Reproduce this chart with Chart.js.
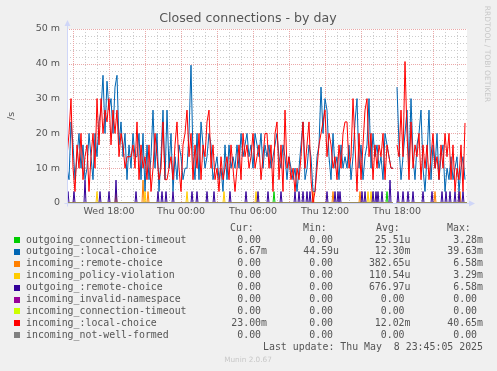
<!DOCTYPE html>
<html><head><meta charset="utf-8">
<script src="https://cdn.jsdelivr.net/npm/chart.js@4/dist/chart.umd.min.js"></script>
<style>html,body{margin:0;padding:0;background:#F0F0F0;overflow:hidden}</style>
</head><body><canvas id="c" width="497" height="371"></canvas>
<script>
// ---------- data ----------
const seriesNames = ["outgoing_connection-timeout","outgoing_:local-choice","incoming_:remote-choice","incoming_policy-violation","outgoing_:remote-choice","incoming_invalid-namespace","incoming_connection-timeout","incoming_:local-choice","incoming_not-well-formed"];
const seriesColors = ["#00CC00","#0066B3","#FF8000","#FFCC00","#330099","#990099","#CCFF00","#FF0000","#808080"];
const curCol = ["0.00","6.67m","0.00","0.00","0.00","0.00","0.00","23.00m","0.00"];
const minCol = ["0.00","44.59u","0.00","0.00","0.00","0.00","0.00","0.00","0.00"];
const avgCol = ["25.51u","12.30m","382.65u","110.54u","676.97u","0.00","0.00","12.02m","0.00"];
const maxCol = ["3.28m","39.63m","6.58m","3.29m","6.58m","0.00","0.00","40.65m","0.00"];
const xTickLabels = ["Wed 18:00","Thu 00:00","Thu 06:00","Thu 12:00","Thu 18:00"];
const xTickMinutes = [1080,1440,1800,2160,2520];   // minutes since Wed 00:00
const yTicks = [0,10,20,30,40,50];                   // milli per second
const startMinute = 870;                              // Wed 14:30
const endMinute = 2870;
// 10-minute samples (values in m/s)
const localOut = [10,6.7,23.3,16.7,6.7, 13.3,20,10,16.7,6.7, 10,20,13.3,6.7,20, 13.3,23.3,26.7,36.7,20,
 35,26.7,30,20,33.3, 36.7,16.7,23.3,13.3,20, 6.7,16.7,10,20,13.3, 13.3,20,6.7,20,3.3,
 16.7,6.7,13.3,26.7,10, 20,3.3,13.3,26.7,6.7, 26.7,10,20,3.3,13.3, 6.7,16.7,13.3,6.7,10,
 10,20,39.6,13.3,6.7, 20,6.7,23.3,16.7,10, 13.3,20,16.7,6.7,10, 13.3,6.7,10,3.3,16.7,
 6.7,16.7,10,13.3,10, 16.7,10,20,13.3,16.7, 20,13.3,16.7,10,20, 16.7,13.3,20,10,16.7,
 13.3,16.7,10,13.3,16.7, 20,13.3,10,16.7,13.3, 6.7,13.3,10,6.7,10, 3.3,10,16.7,23.3,6.7,
 10,16.7,13.3,3.3,3.3, 13.3,16.7,33.3,20,30, 26.7,13.3,6.7,20,10, 13.3,6.7,16.7,10,13.3,
 10,16.7,6.7,13.3,23.3, 30,10,16.7,6.7,13.3, 16.7,30,10,20,13.3, 16.7,10,13.3,6.7,20,
 16.7,13.3,10,10,null, 33.3,16.7,6.7,13.3,20, 26.7,10,30,13.3,6.7, 16.7,20,26.7,10,3.3,
 13.3,26.7,6.7,16.7,10, 20,6.7,13.3,16.7,3.3, 10,6.7,13.3,6.7,10, 13.3,3.3,10,13.3,6.7];
const localIn = [13.3,20,30,10,3.3, 16.7,10,20,6.7,13.3, 16.7,3.3,13.3,20,10, 30,16.7,30,20,26.7,
 23.3,30,16.7,26.7,20, 26.7,13.3,20,16.7,10, 13.3,13.3,13.3,16.7,10, 23.3,6.7,16.7,10,13.3,
 6.7,16.7,3.3,10,20, 13.3,6.7,10,23.3,6.7, 6.7,10,13.3,6.7,16.7, 23.3,10,3.3,16.7,20,
 26.7,13.3,20,6.7,16.7, 10,20,6.7,16.7,13.3, 23.3,26.7,10,16.7,6.7, 10,3.3,13.3,6.7,10,
 13.3,6.7,16.7,10,3.3, 10,16.7,6.7,20,13.3, 16.7,10,13.3,20,10, 13.3,16.7,6.7,13.3,20,
 20,10,16.7,3.3,20, 23.3,6.7,16.7,3.3,26.7, 10,13.3,6.7,10,3.3, 10,6.7,13.3,23.3,10,
 16.7,23.3,6.7,0,3.3, 10,16.7,20,23.3,26.7, 13.3,20,16.7,10,13.3, 6.7,16.7,10,20,23.3,
 23.3,10,13.3,30,16.7, 3.3,20,6.7,16.7,26.7, 30,13.3,20,6.7,16.7, 10,16.7,13.3,20,6.7,
 16.7,13.3,10,10,null, 16.7,13.3,26.7,13.3,40.65, 20,6.7,23.3,10,16.7, 13.3,20,6.7,16.7,10,
 16.7,6.7,13.3,20,10, 13.3,6.7,16.7,10,20, 13.3,20,6.7,16.7,3.3, 10,6.7,16.7,3.3,23];
// 5-minute slots (from Wed 14:30) where the small series are non-zero
const remoteOutSlots = [1,7,33,42,69,91,95,99,106,125,130,140,147,163,179,191,201,214,228,232,236,240,243,260,268,271,273,295,298,306,309,311,315,331,336,341,346,356,365,375,379,383,388,392,396];
const remoteOutHighSlots = [18,49,323];
const remoteInSlots = [49,81,246,266,293,368,393];
const remoteInHighSlots = [76];
const policySlots = [30,78,120,157,189,301,304];
const connTimeoutOutSlots = [207,320];
const gapSlots = [327,328,329];
const lowLevel = 3.3, highLevel = 6.58;

// ---------- build datasets ----------
function tenMinPoints(vals){ return vals.map((v,i)=>({x:startMinute+10*i, y:v})); }
function spikePoints(slots, highSlots, level){
  const n = (endMinute-startMinute)/5;
  const arr = [];
  for(let s=0;s<=n;s++){
    let y = 0;
    if (gapSlots.includes(s)) y = null;
    else if (highSlots.includes(s)) y = highLevel;
    else if (slots.includes(s)) y = level;
    arr.push({x:startMinute+5*s, y});
  }
  return arr;
}
const seriesData = [
  spikePoints(connTimeoutOutSlots, [], 3.28),
  tenMinPoints(localOut),
  spikePoints(remoteInSlots, remoteInHighSlots, lowLevel),
  spikePoints(policySlots, [], 3.29),
  spikePoints(remoteOutSlots, remoteOutHighSlots, lowLevel),
  spikePoints([], [], 0),
  spikePoints([], [], 0),
  tenMinPoints(localIn),
  spikePoints([], [], 0)
];
const datasets = seriesNames.map((name,i)=>({
  label:name, data:seriesData[i], borderColor:seriesColors[i], backgroundColor:seriesColors[i],
  borderWidth:1, pointRadius:0, tension:0, fill:false, spanGaps:false, order:8-i
}));

const FONT = '"DejaVu Sans", sans-serif';
const MONO = '"DejaVu Sans Mono", monospace';

const decor = {
  id:'decor',
  beforeDraw(chart){
    const {ctx, chartArea:a} = chart;
    ctx.save();
    ctx.fillStyle='#F0F0F0'; ctx.fillRect(0,0,chart.width,chart.height);
    ctx.fillStyle='#FFFFFF'; ctx.fillRect(a.left,a.top,a.right-a.left,a.bottom-a.top);
    const xs = chart.scales.x, ys = chart.scales.y;
    ctx.lineWidth=1;
    ctx.setLineDash([1,2]);
    ctx.strokeStyle = '#CCCCCC';
    // vertical minor grid (hours)
    for(let m=Math.ceil(startMinute/60)*60; m<=endMinute; m+=60){
      if (m%180===0) continue;
      const x = Math.round(xs.getPixelForValue(m))+0.5;
      ctx.beginPath(); ctx.moveTo(x,a.top); ctx.lineTo(x,a.bottom); ctx.stroke();
    }
    // horizontal minor grid
    for(let v=2; v<=50; v+=2){
      if (v%10===0) continue;
      const y = Math.round(ys.getPixelForValue(v))+0.5;
      ctx.beginPath(); ctx.moveTo(a.left,y); ctx.lineTo(a.right,y); ctx.stroke();
    }
    // major grid
    ctx.setLineDash([1,1]);
    ctx.strokeStyle = '#EBA8A8';
    for(let m=Math.ceil(startMinute/180)*180; m<=endMinute; m+=180){
      const x = Math.round(xs.getPixelForValue(m))+0.5;
      ctx.beginPath(); ctx.moveTo(x,a.top); ctx.lineTo(x,a.bottom); ctx.stroke();
    }
    for(let v=10; v<=50; v+=10){
      const y = Math.round(ys.getPixelForValue(v))+0.5;
      ctx.beginPath(); ctx.moveTo(a.left,y); ctx.lineTo(a.right,y); ctx.stroke();
    }
    ctx.setLineDash([]);
    ctx.restore();
  },
  afterDatasetsDraw(chart){
    const {ctx, chartArea:a} = chart;
    ctx.save();
    ctx.strokeStyle='#CFD6F8'; ctx.fillStyle='#CFD6F8'; ctx.lineWidth=1;
    const by = Math.round(a.bottom)+0.5, lx = Math.round(a.left)+0.5;
    ctx.beginPath(); ctx.moveTo(lx-3,by); ctx.lineTo(a.right+3,by); ctx.stroke();
    ctx.beginPath(); ctx.moveTo(lx,by+3); ctx.lineTo(lx,a.top-4); ctx.stroke();
    ctx.beginPath(); ctx.moveTo(a.right+2,by-3); ctx.lineTo(a.right+8,by); ctx.lineTo(a.right+2,by+3); ctx.closePath(); ctx.fill();
    ctx.beginPath(); ctx.moveTo(lx-3,a.top-3); ctx.lineTo(lx,a.top-9); ctx.lineTo(lx+3,a.top-3); ctx.closePath(); ctx.fill();
    ctx.restore();
  },
  afterDraw(chart){
    const ctx = chart.ctx;
    ctx.save();
    // title
    ctx.fillStyle='#555'; ctx.font='12.6px '+FONT; ctx.textAlign='center'; ctx.textBaseline='middle';
    ctx.fillText('Closed connections - by day', 248, 19);
    // y title
    ctx.save(); ctx.translate(12,116); ctx.rotate(-Math.PI/2);
    ctx.font='9.5px '+FONT; ctx.fillText('/s',0,0); ctx.restore();
    // watermark
    ctx.save(); ctx.translate(487,54); ctx.rotate(Math.PI/2);
    ctx.fillStyle='#C8C8C8'; ctx.font='7.5px '+FONT; ctx.fillText('RRDTOOL / TOBI OETIKER',0,0); ctx.restore();
    // legend
    ctx.font='9.9px '+MONO; ctx.fillStyle='#555'; ctx.textBaseline='middle'; ctx.textAlign='left';
    ctx.fillText('Cur:',230,228); ctx.fillText('Min:',303,228); ctx.fillText('Avg:',376,228); ctx.fillText('Max:',447,228);
    const fmt = s => /[a-z]$/.test(s)? s : s+' ';
    seriesNames.forEach((name,i)=>{
      const y = 240 + i*11.9;
      ctx.fillStyle=seriesColors[i]; ctx.fillRect(14,Math.round(y)-3,6,6);
      ctx.fillStyle='#555'; ctx.textAlign='left';
      ctx.fillText(name,26,y);
      ctx.textAlign='right';
      ctx.fillText(fmt(curCol[i]),267,y);
      ctx.fillText(fmt(minCol[i]),339,y);
      ctx.fillText(fmt(avgCol[i]),410.5,y);
      ctx.fillText(fmt(maxCol[i]),483,y);
    });
    ctx.textAlign='right';
    ctx.fillText('Last update: Thu May  8 23:45:05 2025',483,347);
    ctx.textAlign='center'; ctx.fillStyle='#C8C8C8'; ctx.font='7.3px '+FONT;
    ctx.fillText('Munin 2.0.67',248,360);
    ctx.restore();
  }
};

new Chart(document.getElementById('c'),{
  type:'line',
  data:{datasets},
  options:{
    responsive:false, animation:false, devicePixelRatio:1,
    layout:{padding:{left:0,top:29,right:30,bottom:0}},
    plugins:{legend:{display:false},tooltip:{enabled:false},title:{display:false}},
    scales:{
      x:{type:'linear', min:startMinute, max:endMinute,
        grid:{display:false, drawTicks:false}, border:{display:false},
        afterBuildTicks(s){ s.ticks = xTickMinutes.map(v=>({value:v})); },
        afterFit(s){ s.height = 168; },
        ticks:{autoSkip:false, maxRotation:0, padding:3, color:'#555', font:{family:FONT,size:9.5},
          callback(v){ const k=xTickMinutes.indexOf(v); return k>=0?xTickLabels[k]:''; }}
      },
      y:{type:'linear', min:0, max:50,
        grid:{display:false, drawTicks:false}, border:{display:false},
        afterBuildTicks(s){ s.ticks = yTicks.map(v=>({value:v})); },
        afterFit(s){ s.width = 67; },
        ticks:{padding:7, color:'#555', font:{family:FONT,size:9.5},
          callback(v){ return v===0?'0':v+' m'; }}
      }
    }
  },
  plugins:[decor]
});
</script></body></html>
